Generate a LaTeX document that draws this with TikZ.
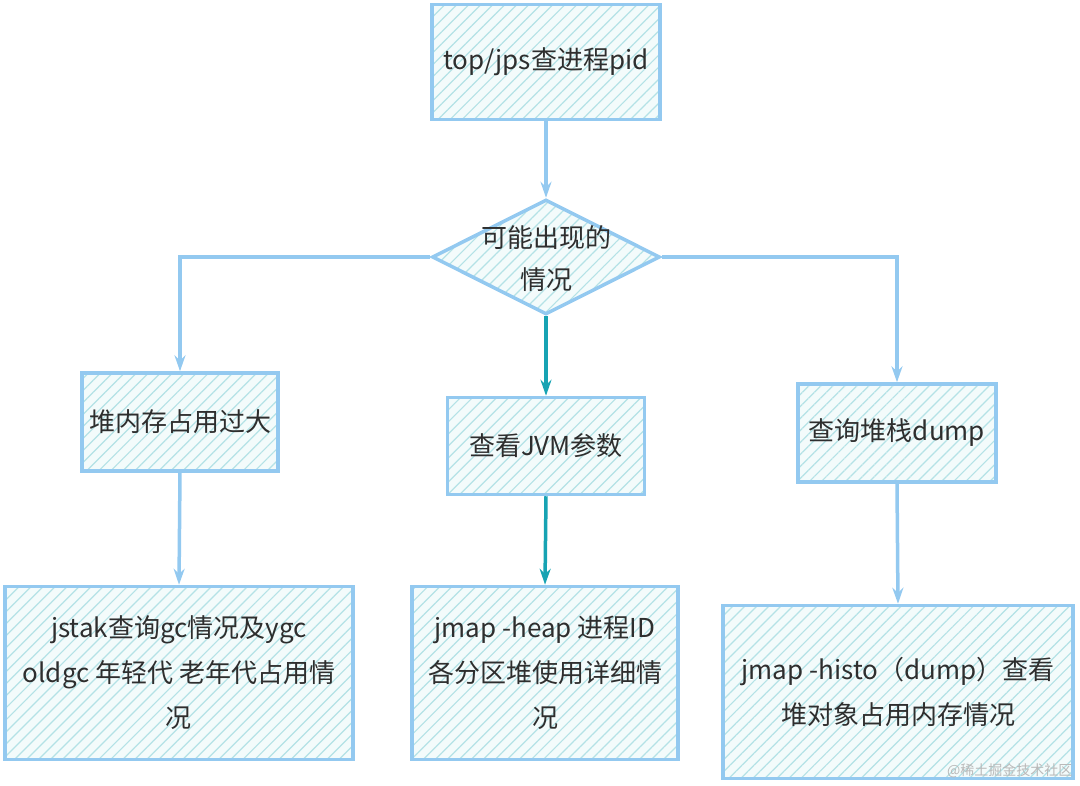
\documentclass[tikz,border=0pt]{standalone}
\usepackage{fontspec}
\newfontfamily\cjk{Noto Sans CJK SC}
\usetikzlibrary{shapes.geometric,arrows.meta,patterns.meta}
\definecolor{edge}{HTML}{93C9F0}
\definecolor{hatch}{HTML}{B4E2E6}
\definecolor{paper}{HTML}{F3FBFB}
\definecolor{teal}{HTML}{17A3B3}
\definecolor{ink}{HTML}{2E2E2E}
\tikzset{
  hbox/.style={draw=edge, line width=3.5pt, rectangle,
    preaction={fill=paper},
    pattern={Lines[angle=45,distance=8.5pt,line width=1.2pt]}, pattern color=hatch,
    font=\cjk\fontsize{26}{45}\selectfont, text=ink, align=center, inner sep=0pt},
  diam/.style={draw=edge, line width=3.5pt, diamond, inner sep=0pt,
    preaction={fill=paper},
    pattern={Lines[angle=45,distance=8.5pt,line width=1.2pt]}, pattern color=hatch},
  txt/.style={font=\cjk\fontsize{26}{42}\selectfont, text=ink, align=center},
  conn/.style={draw=edge, line width=3.5pt, -{Stealth[length=16pt,width=11pt]}},
  tconn/.style={draw=teal, line width=3.5pt, -{Stealth[length=16pt,width=11pt]}},
  wmark/.style={font=\cjk\fontsize{14}{16}\selectfont, text=gray!55}
}
\begin{document}
\begin{tikzpicture}[x=1pt,y=-1pt]
\useasboundingbox (0,0) rectangle (1080,786);
\node[hbox, minimum width=228pt, minimum height=115pt] (top) at (546,62) {top/jps查进程pid};
\node[diam, minimum width=228pt, minimum height=115pt] (d) at (546,257) {};
\node[txt] (dt) at (546,259) {可能出现的\\情况};
\node[hbox, minimum width=196pt, minimum height=98pt] (b1) at (180,422) {堆内存占用过大};
\node[hbox, minimum width=197pt, minimum height=97pt] (b2) at (546,446) {查看JVM参数};
\node[hbox, minimum width=198pt, minimum height=98pt] (b3) at (897,433) {查询堆栈dump};
\node[hbox, minimum width=348pt, minimum height=173pt] (b4) at (179,673) {jstak查询gc情况及ygc\\oldgc 年轻代 老年代占用情\\况};
\node[hbox, minimum width=266pt, minimum height=173pt] (b5) at (545,673) {jmap -heap 进程ID\\各分区堆使用详细情\\况};
\node[hbox, minimum width=350pt, minimum height=173pt] (b6) at (898,692) {jmap -histo（dump）查看\\堆对象占用内存情况};
\node[wmark, anchor=east] (wm) at (1076,771) {@稀土掘金技术社区};
\draw[conn] (top.south) -- (d.north);
\draw[conn] (d.west) -| (b1.north);
\draw[conn] (d.east) -| (b3.north);
\draw[tconn] (d.south) -- (b2.north);
\draw[conn] (b1.south) -- (b4.north);
\draw[tconn] (b2.south) -- (b5.north);
\draw[conn] (b3.south) -- (b6.north);
\end{tikzpicture}
\end{document}
